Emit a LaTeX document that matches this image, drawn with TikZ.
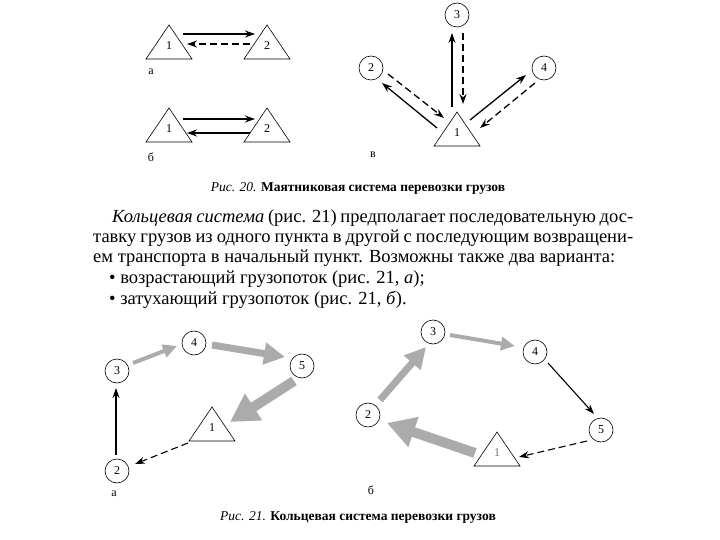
\documentclass[tikz,border=0pt]{standalone}
\usepackage{fontspec}
\setmainfont{Liberation Serif}
\usetikzlibrary{arrows.meta,calc}
\tikzset{
  circ/.style={circle,draw,line width=0.6pt,minimum size=24pt,inner sep=0pt,font=\fontsize{12}{12}\selectfont},
  tlab/.style={inner sep=0pt,font=\fontsize{12}{12}\selectfont},
  triline/.style={line width=0.6pt},
  sub/.style={inner sep=0pt,font=\fontsize{12}{12}\selectfont},
  arr/.style={line width=1.3pt,-{Stealth[length=10pt,width=7pt]}},
  darr/.style={arr,dash pattern=on 7pt off 4pt},
  garrA/.style={draw=black!33,line width=4pt,-{Triangle[length=14pt,width=13pt,fill=black!33]}},
  garrB/.style={draw=black!33,line width=7pt,-{Triangle[length=21pt,width=21pt,fill=black!33]}},
  garrC/.style={draw=black!33,line width=10pt,-{Triangle[length=28pt,width=30pt,fill=black!33]}},
  body/.style={inner sep=0pt,anchor=west,font=\fontsize{18.5}{20}\selectfont},
  captxt/.style={inner sep=0pt,font=\fontsize{13.5}{13.5}\selectfont}
}
\newcommand{\mytri}[1]{\draw[triline] ($(#1)+(0,-21)$) -- ($(#1)+(23,13)$) -- ($(#1)+(-23,13)$) -- cycle;}
\begin{document}
\begin{tikzpicture}[x=1pt,y=-1pt]
\useasboundingbox (0,0) rectangle (720,540);
% ---------- Fig 20 a ----------
\node[tlab] (a1) at (169,46) {1}; \mytri{a1}
\node[tlab] (a2) at (267,46) {2}; \mytri{a2}
\coordinate (a1s) at (183,34); \coordinate (a2e) at (255,34);
\coordinate (a2s) at (250,44); \coordinate (a1e) at (187,44);
\draw[arr] (a1s) -- (a2e);
\draw[darr] (a2s) -- (a1e);
\node[sub] (la) at (151,72) {а};
% ---------- Fig 20 b ----------
\node[tlab] (b1) at (169,129) {1}; \mytri{b1}
\node[tlab] (b2) at (267,129) {2}; \mytri{b2}
\coordinate (b1s) at (183,119); \coordinate (b2e) at (255,119);
\coordinate (b2s) at (250,133); \coordinate (b1e) at (187,133);
\draw[arr] (b1s) -- (b2e);
\draw[arr] (b2s) -- (b1e);
\node[sub] (lb) at (151,157) {б};
% ---------- Fig 20 v ----------
\node[tlab] (v1) at (457,133) {1}; \mytri{v1}
\node[circ] (v3) at (457,15) {3};
\node[circ] (v2) at (371,68) {2};
\node[circ] (v4) at (544,68) {4};
\coordinate (v1u) at (452,107); \coordinate (v3d) at (452,33);
\coordinate (v3s) at (463,33); \coordinate (v1d) at (463,104);
\draw[arr] (v1u) -- (v3d);
\draw[darr] (v3s) -- (v1d);
\coordinate (v1l) at (437,128); \coordinate (v2e) at (382,83);
\coordinate (v2s) at (388,74); \coordinate (v1le) at (444,118);
\draw[arr] (v1l) -- (v2e);
\draw[darr] (v2s) -- (v1le);
\coordinate (v1r) at (470,120); \coordinate (v4e) at (526,75);
\coordinate (v4s) at (535,83); \coordinate (v1re) at (480,128);
\draw[arr] (v1r) -- (v4e);
\draw[darr] (v4s) -- (v1re);
\node[sub] (lv) at (373,155) {в};
% ---------- caption 20 ----------
\node[captxt] (cap20) at (358,188) {\textit{Рис. 20.} \textbf{Маятниковая система перевозки грузов}};
% ---------- body text ----------
\node[body] (l1) at (112,218) {\makebox[521pt][s]{\textit{Кольцевая система} (рис. 21) предполагает последовательную дос-}};
\node[body] (l2) at (93,238) {\makebox[540pt][s]{тавку грузов из одного пункта в другой с последующим возвращени-}};
\node[body] (l3) at (93,258) {ем транспорта в начальный пункт. Возможны также два варианта:};
\node[body] (l4) at (109,279) {• возрастающий грузопоток (рис. 21, \textit{а});};
\node[body] (l5) at (109,300) {• затухающий грузопоток (рис. 21, \textit{б}).};
% ---------- Fig 21 a ----------
\node[tlab] (p1) at (212,428) {1}; \mytri{p1}
\node[circ] (p2) at (117,471) {2};
\node[circ] (p3) at (117,371) {3};
\node[circ] (p4) at (194,343) {4};
\node[circ] (p5) at (302,366) {5};
\coordinate (p2u) at (116,455); \coordinate (p3d) at (116,388);
\draw[arr] (p2u) -- (p3d);
\coordinate (p3r) at (133,363); \coordinate (p4l) at (177,346);
\draw[garrA] (p3r) -- (p4l);
\coordinate (p4r) at (212,345); \coordinate (p5l) at (285,357);
\draw[garrB] (p4r) -- (p5l);
\coordinate (p5d) at (294,381); \coordinate (p1u) at (230,422);
\draw[garrC] (p5d) -- (p1u);
\coordinate (p1l) at (188,443); \coordinate (p2r) at (135,464);
\draw[darr,line width=1.1pt] (p1l) -- (p2r);
\node[sub] (pa) at (114,494) {а};
% ---------- Fig 21 b ----------
\node[tlab,text=black!55] (q1) at (497,453) {1}; \mytri{q1}
\node[circ] (q2) at (368,415) {2};
\node[circ] (q3) at (433,332) {3};
\node[circ] (q4) at (535,352) {4};
\node[circ] (q5) at (601,430) {5};
\coordinate (q2u) at (380,400); \coordinate (q3d) at (426,347);
\draw[garrB] (q2u) -- (q3d);
\coordinate (q3r) at (450,335); \coordinate (q4l) at (515,346);
\draw[garrA] (q3r) -- (q4l);
\coordinate (q4d) at (548,363); \coordinate (q5u) at (594,414);
\draw[arr,line width=1.1pt] (q4d) -- (q5u);
\coordinate (q5l) at (587,441); \coordinate (q1r) at (519,457);
\draw[darr,line width=1.1pt] (q5l) -- (q1r);
\coordinate (q1l) at (475,453); \coordinate (q2r) at (387,423);
\draw[garrC] (q1l) -- (q2r);
\node[sub] (qb) at (371,490) {б};
% ---------- caption 21 ----------
\node[captxt] (cap21) at (358,517) {\textit{Рис. 21.} \textbf{Кольцевая система перевозки грузов}};
\end{tikzpicture}
\end{document}
